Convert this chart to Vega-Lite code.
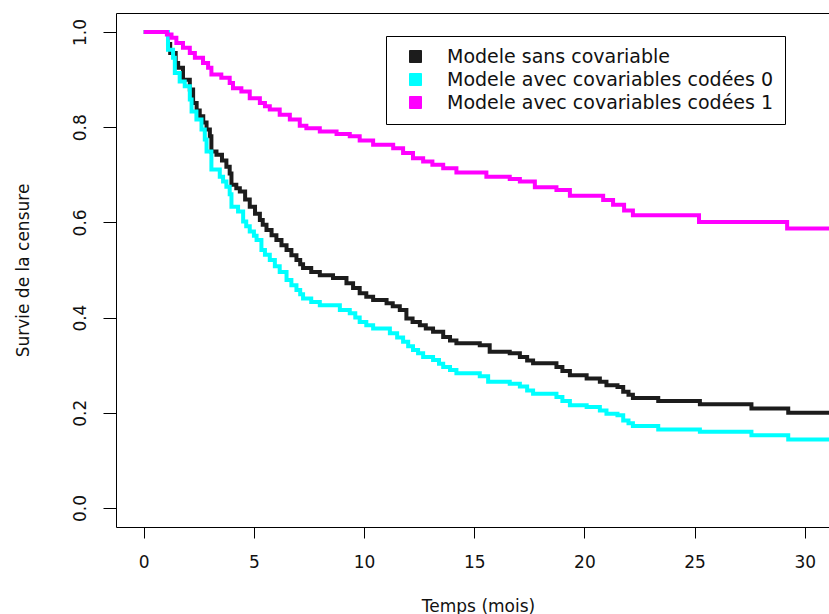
{
  "$schema": "https://vega.github.io/schema/vega-lite/v6.json",
  "width": 713,
  "height": 514,
  "autosize": {"type": "none"},
  "padding": {"left": 116, "top": 13, "right": 0, "bottom": 87},
  "background": "white",
  "config": {
    "view": {"stroke": null},
    "font": "DejaVu Sans",
    "axis": {"grid": false, "domainColor": "#000000", "domainWidth": 1, "tickColor": "#000000", "tickWidth": 1, "labelColor": "#111111", "titleColor": "#111111", "labelFontSize": 17, "titleFontSize": 17, "titleFontWeight": "normal", "labelOverlap": false, "labelFlush": false}
  },
  "datasets": {
    "surv": [
      {"t": 0, "s": 1.0, "g": "Modele sans covariable"},
      {"t": 1.1, "s": 0.975, "g": "Modele sans covariable"},
      {"t": 1.2, "s": 0.956, "g": "Modele sans covariable"},
      {"t": 1.45, "s": 0.935, "g": "Modele sans covariable"},
      {"t": 1.56, "s": 0.925, "g": "Modele sans covariable"},
      {"t": 1.78, "s": 0.9, "g": "Modele sans covariable"},
      {"t": 2.09, "s": 0.879, "g": "Modele sans covariable"},
      {"t": 2.24, "s": 0.851, "g": "Modele sans covariable"},
      {"t": 2.4, "s": 0.835, "g": "Modele sans covariable"},
      {"t": 2.54, "s": 0.823, "g": "Modele sans covariable"},
      {"t": 2.7, "s": 0.81, "g": "Modele sans covariable"},
      {"t": 2.85, "s": 0.795, "g": "Modele sans covariable"},
      {"t": 3.0, "s": 0.781, "g": "Modele sans covariable"},
      {"t": 3.07, "s": 0.749, "g": "Modele sans covariable"},
      {"t": 3.3, "s": 0.742, "g": "Modele sans covariable"},
      {"t": 3.55, "s": 0.73, "g": "Modele sans covariable"},
      {"t": 3.75, "s": 0.717, "g": "Modele sans covariable"},
      {"t": 3.9, "s": 0.703, "g": "Modele sans covariable"},
      {"t": 3.98, "s": 0.679, "g": "Modele sans covariable"},
      {"t": 4.2, "s": 0.672, "g": "Modele sans covariable"},
      {"t": 4.36, "s": 0.665, "g": "Modele sans covariable"},
      {"t": 4.6, "s": 0.648, "g": "Modele sans covariable"},
      {"t": 4.81, "s": 0.633, "g": "Modele sans covariable"},
      {"t": 5.05, "s": 0.618, "g": "Modele sans covariable"},
      {"t": 5.27, "s": 0.605, "g": "Modele sans covariable"},
      {"t": 5.4, "s": 0.595, "g": "Modele sans covariable"},
      {"t": 5.57, "s": 0.584, "g": "Modele sans covariable"},
      {"t": 5.8, "s": 0.573, "g": "Modele sans covariable"},
      {"t": 6.02, "s": 0.563, "g": "Modele sans covariable"},
      {"t": 6.25, "s": 0.552, "g": "Modele sans covariable"},
      {"t": 6.48, "s": 0.542, "g": "Modele sans covariable"},
      {"t": 6.7, "s": 0.531, "g": "Modele sans covariable"},
      {"t": 6.93, "s": 0.521, "g": "Modele sans covariable"},
      {"t": 7.1, "s": 0.512, "g": "Modele sans covariable"},
      {"t": 7.23, "s": 0.504, "g": "Modele sans covariable"},
      {"t": 7.6, "s": 0.496, "g": "Modele sans covariable"},
      {"t": 7.99, "s": 0.489, "g": "Modele sans covariable"},
      {"t": 8.59, "s": 0.483, "g": "Modele sans covariable"},
      {"t": 9.2, "s": 0.472, "g": "Modele sans covariable"},
      {"t": 9.5, "s": 0.462, "g": "Modele sans covariable"},
      {"t": 9.8, "s": 0.451, "g": "Modele sans covariable"},
      {"t": 10.1, "s": 0.444, "g": "Modele sans covariable"},
      {"t": 10.41, "s": 0.437, "g": "Modele sans covariable"},
      {"t": 11.02, "s": 0.43, "g": "Modele sans covariable"},
      {"t": 11.3, "s": 0.424, "g": "Modele sans covariable"},
      {"t": 11.62, "s": 0.416, "g": "Modele sans covariable"},
      {"t": 11.92, "s": 0.398, "g": "Modele sans covariable"},
      {"t": 12.2, "s": 0.391, "g": "Modele sans covariable"},
      {"t": 12.53, "s": 0.384, "g": "Modele sans covariable"},
      {"t": 12.8, "s": 0.377, "g": "Modele sans covariable"},
      {"t": 13.13, "s": 0.37, "g": "Modele sans covariable"},
      {"t": 13.59, "s": 0.359, "g": "Modele sans covariable"},
      {"t": 13.9, "s": 0.352, "g": "Modele sans covariable"},
      {"t": 14.19, "s": 0.346, "g": "Modele sans covariable"},
      {"t": 15.25, "s": 0.342, "g": "Modele sans covariable"},
      {"t": 15.7, "s": 0.328, "g": "Modele sans covariable"},
      {"t": 16.61, "s": 0.325, "g": "Modele sans covariable"},
      {"t": 17.07, "s": 0.317, "g": "Modele sans covariable"},
      {"t": 17.4, "s": 0.31, "g": "Modele sans covariable"},
      {"t": 17.67, "s": 0.304, "g": "Modele sans covariable"},
      {"t": 18.73, "s": 0.296, "g": "Modele sans covariable"},
      {"t": 19.0, "s": 0.288, "g": "Modele sans covariable"},
      {"t": 19.34, "s": 0.279, "g": "Modele sans covariable"},
      {"t": 20.1, "s": 0.272, "g": "Modele sans covariable"},
      {"t": 20.7, "s": 0.265, "g": "Modele sans covariable"},
      {"t": 21.0, "s": 0.258, "g": "Modele sans covariable"},
      {"t": 21.5, "s": 0.254, "g": "Modele sans covariable"},
      {"t": 21.76, "s": 0.244, "g": "Modele sans covariable"},
      {"t": 22.0, "s": 0.238, "g": "Modele sans covariable"},
      {"t": 22.2, "s": 0.231, "g": "Modele sans covariable"},
      {"t": 23.35, "s": 0.225, "g": "Modele sans covariable"},
      {"t": 25.24, "s": 0.218, "g": "Modele sans covariable"},
      {"t": 27.58, "s": 0.209, "g": "Modele sans covariable"},
      {"t": 29.25, "s": 0.2, "g": "Modele sans covariable"},
      {"t": 31.5, "s": 0.2, "g": "Modele sans covariable"},

      {"t": 0, "s": 1.0, "g": "Modele avec covariables codées 0"},
      {"t": 1.1, "s": 0.963, "g": "Modele avec covariables codées 0"},
      {"t": 1.33, "s": 0.946, "g": "Modele avec covariables codées 0"},
      {"t": 1.41, "s": 0.914, "g": "Modele avec covariables codées 0"},
      {"t": 1.63, "s": 0.896, "g": "Modele avec covariables codées 0"},
      {"t": 1.86, "s": 0.886, "g": "Modele avec covariables codées 0"},
      {"t": 2.09, "s": 0.858, "g": "Modele avec covariables codées 0"},
      {"t": 2.17, "s": 0.833, "g": "Modele avec covariables codées 0"},
      {"t": 2.39, "s": 0.816, "g": "Modele avec covariables codées 0"},
      {"t": 2.62, "s": 0.795, "g": "Modele avec covariables codées 0"},
      {"t": 2.77, "s": 0.774, "g": "Modele avec covariables codées 0"},
      {"t": 2.85, "s": 0.749, "g": "Modele avec covariables codées 0"},
      {"t": 3.07, "s": 0.711, "g": "Modele avec covariables codées 0"},
      {"t": 3.45, "s": 0.696, "g": "Modele avec covariables codées 0"},
      {"t": 3.6, "s": 0.686, "g": "Modele avec covariables codées 0"},
      {"t": 3.75, "s": 0.675, "g": "Modele avec covariables codées 0"},
      {"t": 3.9, "s": 0.659, "g": "Modele avec covariables codées 0"},
      {"t": 3.98, "s": 0.633, "g": "Modele avec covariables codées 0"},
      {"t": 4.28, "s": 0.623, "g": "Modele avec covariables codées 0"},
      {"t": 4.51, "s": 0.602, "g": "Modele avec covariables codées 0"},
      {"t": 4.65, "s": 0.592, "g": "Modele avec covariables codées 0"},
      {"t": 4.81, "s": 0.581, "g": "Modele avec covariables codées 0"},
      {"t": 5.0, "s": 0.572, "g": "Modele avec covariables codées 0"},
      {"t": 5.12, "s": 0.563, "g": "Modele avec covariables codées 0"},
      {"t": 5.34, "s": 0.542, "g": "Modele avec covariables codées 0"},
      {"t": 5.5, "s": 0.532, "g": "Modele avec covariables codées 0"},
      {"t": 5.72, "s": 0.521, "g": "Modele avec covariables codées 0"},
      {"t": 5.95, "s": 0.508, "g": "Modele avec covariables codées 0"},
      {"t": 6.17, "s": 0.496, "g": "Modele avec covariables codées 0"},
      {"t": 6.48, "s": 0.479, "g": "Modele avec covariables codées 0"},
      {"t": 6.7, "s": 0.468, "g": "Modele avec covariables codées 0"},
      {"t": 6.93, "s": 0.458, "g": "Modele avec covariables codées 0"},
      {"t": 7.1, "s": 0.449, "g": "Modele avec covariables codées 0"},
      {"t": 7.23, "s": 0.44, "g": "Modele avec covariables codées 0"},
      {"t": 7.6, "s": 0.433, "g": "Modele avec covariables codées 0"},
      {"t": 7.99, "s": 0.426, "g": "Modele avec covariables codées 0"},
      {"t": 8.9, "s": 0.416, "g": "Modele avec covariables codées 0"},
      {"t": 9.35, "s": 0.409, "g": "Modele avec covariables codées 0"},
      {"t": 9.6, "s": 0.4, "g": "Modele avec covariables codées 0"},
      {"t": 9.8, "s": 0.391, "g": "Modele avec covariables codées 0"},
      {"t": 10.1, "s": 0.384, "g": "Modele avec covariables codées 0"},
      {"t": 10.41, "s": 0.377, "g": "Modele avec covariables codées 0"},
      {"t": 11.17, "s": 0.367, "g": "Modele avec covariables codées 0"},
      {"t": 11.5, "s": 0.358, "g": "Modele avec covariables codées 0"},
      {"t": 11.77, "s": 0.349, "g": "Modele avec covariables codées 0"},
      {"t": 12.0, "s": 0.34, "g": "Modele avec covariables codées 0"},
      {"t": 12.22, "s": 0.332, "g": "Modele avec covariables codées 0"},
      {"t": 12.45, "s": 0.325, "g": "Modele avec covariables codées 0"},
      {"t": 12.68, "s": 0.317, "g": "Modele avec covariables codées 0"},
      {"t": 13.13, "s": 0.311, "g": "Modele avec covariables codées 0"},
      {"t": 13.4, "s": 0.303, "g": "Modele avec covariables codées 0"},
      {"t": 13.59, "s": 0.296, "g": "Modele avec covariables codées 0"},
      {"t": 13.9, "s": 0.29, "g": "Modele avec covariables codées 0"},
      {"t": 14.19, "s": 0.283, "g": "Modele avec covariables codées 0"},
      {"t": 15.25, "s": 0.277, "g": "Modele avec covariables codées 0"},
      {"t": 15.63, "s": 0.265, "g": "Modele avec covariables codées 0"},
      {"t": 16.61, "s": 0.261, "g": "Modele avec covariables codées 0"},
      {"t": 17.07, "s": 0.255, "g": "Modele avec covariables codées 0"},
      {"t": 17.4, "s": 0.247, "g": "Modele avec covariables codées 0"},
      {"t": 17.67, "s": 0.24, "g": "Modele avec covariables codées 0"},
      {"t": 18.73, "s": 0.233, "g": "Modele avec covariables codées 0"},
      {"t": 19.0, "s": 0.225, "g": "Modele avec covariables codées 0"},
      {"t": 19.34, "s": 0.216, "g": "Modele avec covariables codées 0"},
      {"t": 20.1, "s": 0.212, "g": "Modele avec covariables codées 0"},
      {"t": 20.7, "s": 0.205, "g": "Modele avec covariables codées 0"},
      {"t": 21.0, "s": 0.198, "g": "Modele avec covariables codées 0"},
      {"t": 21.5, "s": 0.195, "g": "Modele avec covariables codées 0"},
      {"t": 21.76, "s": 0.184, "g": "Modele avec covariables codées 0"},
      {"t": 22.0, "s": 0.178, "g": "Modele avec covariables codées 0"},
      {"t": 22.2, "s": 0.172, "g": "Modele avec covariables codées 0"},
      {"t": 23.35, "s": 0.165, "g": "Modele avec covariables codées 0"},
      {"t": 25.24, "s": 0.16, "g": "Modele avec covariables codées 0"},
      {"t": 27.58, "s": 0.153, "g": "Modele avec covariables codées 0"},
      {"t": 29.25, "s": 0.144, "g": "Modele avec covariables codées 0"},
      {"t": 31.5, "s": 0.144, "g": "Modele avec covariables codées 0"},

      {"t": 0, "s": 1.0, "g": "Modele avec covariables codées 1"},
      {"t": 1.05, "s": 0.995, "g": "Modele avec covariables codées 1"},
      {"t": 1.26, "s": 0.988, "g": "Modele avec covariables codées 1"},
      {"t": 1.48, "s": 0.977, "g": "Modele avec covariables codées 1"},
      {"t": 1.78, "s": 0.967, "g": "Modele avec covariables codées 1"},
      {"t": 2.09, "s": 0.956, "g": "Modele avec covariables codées 1"},
      {"t": 2.32, "s": 0.946, "g": "Modele avec covariables codées 1"},
      {"t": 2.69, "s": 0.935, "g": "Modele avec covariables codées 1"},
      {"t": 2.92, "s": 0.925, "g": "Modele avec covariables codées 1"},
      {"t": 3.07, "s": 0.911, "g": "Modele avec covariables codées 1"},
      {"t": 3.52, "s": 0.904, "g": "Modele avec covariables codées 1"},
      {"t": 3.9, "s": 0.893, "g": "Modele avec covariables codées 1"},
      {"t": 4.05, "s": 0.882, "g": "Modele avec covariables codées 1"},
      {"t": 4.43, "s": 0.875, "g": "Modele avec covariables codées 1"},
      {"t": 4.81, "s": 0.861, "g": "Modele avec covariables codées 1"},
      {"t": 5.27, "s": 0.851, "g": "Modele avec covariables codées 1"},
      {"t": 5.5, "s": 0.844, "g": "Modele avec covariables codées 1"},
      {"t": 5.72, "s": 0.837, "g": "Modele avec covariables codées 1"},
      {"t": 6.17, "s": 0.826, "g": "Modele avec covariables codées 1"},
      {"t": 6.63, "s": 0.816, "g": "Modele avec covariables codées 1"},
      {"t": 7.08, "s": 0.803, "g": "Modele avec covariables codées 1"},
      {"t": 7.38, "s": 0.798, "g": "Modele avec covariables codées 1"},
      {"t": 7.99, "s": 0.791, "g": "Modele avec covariables codées 1"},
      {"t": 8.75, "s": 0.786, "g": "Modele avec covariables codées 1"},
      {"t": 9.35, "s": 0.781, "g": "Modele avec covariables codées 1"},
      {"t": 9.8, "s": 0.772, "g": "Modele avec covariables codées 1"},
      {"t": 10.41, "s": 0.763, "g": "Modele avec covariables codées 1"},
      {"t": 11.32, "s": 0.756, "g": "Modele avec covariables codées 1"},
      {"t": 11.77, "s": 0.746, "g": "Modele avec covariables codées 1"},
      {"t": 12.22, "s": 0.735, "g": "Modele avec covariables codées 1"},
      {"t": 12.68, "s": 0.728, "g": "Modele avec covariables codées 1"},
      {"t": 13.1, "s": 0.721, "g": "Modele avec covariables codées 1"},
      {"t": 13.59, "s": 0.714, "g": "Modele avec covariables codées 1"},
      {"t": 14.19, "s": 0.705, "g": "Modele avec covariables codées 1"},
      {"t": 15.55, "s": 0.696, "g": "Modele avec covariables codées 1"},
      {"t": 16.61, "s": 0.691, "g": "Modele avec covariables codées 1"},
      {"t": 17.07, "s": 0.686, "g": "Modele avec covariables codées 1"},
      {"t": 17.75, "s": 0.674, "g": "Modele avec covariables codées 1"},
      {"t": 18.73, "s": 0.668, "g": "Modele avec covariables codées 1"},
      {"t": 19.34, "s": 0.656, "g": "Modele avec covariables codées 1"},
      {"t": 20.85, "s": 0.647, "g": "Modele avec covariables codées 1"},
      {"t": 21.3, "s": 0.637, "g": "Modele avec covariables codées 1"},
      {"t": 21.8, "s": 0.625, "g": "Modele avec covariables codées 1"},
      {"t": 22.2, "s": 0.615, "g": "Modele avec covariables codées 1"},
      {"t": 25.2, "s": 0.601, "g": "Modele avec covariables codées 1"},
      {"t": 29.2, "s": 0.587, "g": "Modele avec covariables codées 1"},
      {"t": 31.5, "s": 0.587, "g": "Modele avec covariables codées 1"}
    ]
  },
  "data": {"name": "surv"},
  "encoding": {
    "y": {
      "field": "s",
      "type": "quantitative",
      "scale": {"domain": [-0.04, 1.04], "nice": false, "zero": false},
      "axis": {
        "values": [0, 0.2, 0.4, 0.6, 0.8, 1.0],
        "format": ".1f",
        "labelAngle": -90,
        "labelAlign": "center",
        "labelBaseline": "alphabetic",
        "tickSize": 13,
        "labelPadding": 18,
        "title": "Survie de la censure",
        "titleAngle": -90,
        "titleAlign": "center",
        "titleBaseline": "alphabetic",
        "titleX": -88,
        "titleY": 257
      }
    },
    "color": {
      "field": "g",
      "type": "nominal",
      "scale": {
        "domain": ["Modele sans covariable", "Modele avec covariables codées 0", "Modele avec covariables codées 1"],
        "range": ["#1c1c1c", "#00ffff", "#ff00ff"]
      },
      "legend": {
        "orient": "none",
        "legendX": 270,
        "legendY": 23,
        "title": null,
        "symbolType": "square",
        "symbolSize": 144,
        "symbolStrokeWidth": 1,
        "symbolStrokeColor": "#000000",
        "symbolOffset": 9,
        "labelOffset": 22,
        "labelFontSize": 19,
        "labelColor": "#111111",
        "labelLimit": 500,
        "padding": 11,
        "rowPadding": 3,
        "strokeColor": "#000000",
        "fillColor": "#ffffff",
        "encode": {
          "symbols": {
            "update": {
              "fill": {"scale": "color", "field": "value"},
              "fillOpacity": {"value": 1},
              "stroke": {"value": "#000000"},
              "strokeWidth": {"value": 1}
            }
          }
        }
      }
    }
  },
  "layer": [
    {
      "transform": [{"filter": "datum.g === 'Modele sans covariable'"}],
      "mark": {"type": "line", "interpolate": "step-after", "strokeWidth": 4, "clip": true},
      "encoding": {
        "x": {
          "field": "t",
          "type": "quantitative",
          "scale": {"domain": [-1.26, 31.1], "nice": false, "zero": false},
          "axis": {
            "values": [0, 5, 10, 15, 20, 25, 30],
            "tickSize": 11,
            "labelBaseline": "alphabetic",
            "labelPadding": 29,
            "title": "Temps (mois)",
            "titleX": 362,
            "titleY": 84,
            "titleAlign": "center",
            "titleBaseline": "alphabetic"
          }
        }
      }
    },
    {
      "transform": [{"filter": "datum.g === 'Modele avec covariables codées 0'"}],
      "mark": {"type": "line", "interpolate": "step-after", "strokeWidth": 4, "clip": true},
      "encoding": {
        "x": {"field": "t", "type": "quantitative", "axis": null}
      }
    },
    {
      "transform": [{"filter": "datum.g === 'Modele avec covariables codées 1'"}],
      "mark": {"type": "line", "interpolate": "step-after", "strokeWidth": 4, "clip": true},
      "encoding": {
        "x": {
          "field": "t",
          "type": "quantitative",
          "axis": {"orient": "top", "labels": false, "ticks": false, "title": null, "domain": true}
        }
      }
    }
  ],
  "resolve": {"axis": {"x": "independent"}}
}
